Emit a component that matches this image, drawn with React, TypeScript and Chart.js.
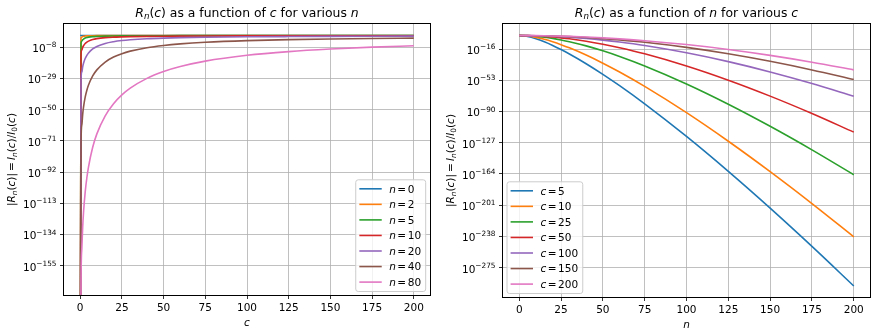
import React, { useEffect, useRef } from "react";
import { Chart, registerables } from "chart.js";

Chart.register(...registerables);

const FONT = '"DejaVu Sans", "Liberation Sans", sans-serif';
const TICK_SIZE = 10.5;
const TITLE_SIZE = 12.4;
const COLORS = ["#1f77b4", "#ff7f0e", "#2ca02c", "#d62728", "#9467bd", "#8c564b", "#e377c2"];

// ---------------- Left panel: log10 |R_n(c)| versus c (-Infinity = R is 0 at c = 0)
const C_GRID = [0, 0.5, 1, 1.5, 2, 3, 4, 5, 7.5, 10, 15, 20, 25, 30, 40, 50, 60, 75, 100, 125, 150, 175, 200];
const N_LABELS = ["0", "2", "5", "10", "20", "40", "80"];
const LOG_R_N0 = [0, 0, 0, 0, 0, 0, 0, 0, 0, 0, 0, 0, 0, 0, 0, 0, 0, 0, 0, 0, 0, 0, 0];
const LOG_R_N2 = [-Infinity, -1.52, -0.97, -0.69, -0.52, -0.34, -0.245, -0.19, -0.125, -0.092, -0.06, -0.045, -0.036, -0.03, -0.022, -0.018, -0.015, -0.012, -0.009, -0.007, -0.006, -0.005, -0.0045];
const LOG_R_N5 = [-Infinity, -5.12, -3.67, -2.88, -2.37, -1.73, -1.35, -1.1, -0.74, -0.56, -0.37, -0.28, -0.22, -0.18, -0.14, -0.11, -0.09, -0.073, -0.054, -0.044, -0.036, -0.031, -0.027];
const LOG_R_N10 = [-Infinity, -12.61, -9.66, -8.01, -6.88, -5.4, -4.45, -3.78, -2.72, -2.11, -1.44, -1.09, -0.88, -0.73, -0.55, -0.44, -0.37, -0.29, -0.22, -0.176, -0.146, -0.125, -0.11];
const LOG_R_N20 = [-Infinity, -30.45, -24.51, -21.09, -18.72, -15.51, -13.34, -11.73, -9.05, -7.35, -5.31, -4.14, -3.37, -2.84, -2.15, -1.73, -1.44, -1.16, -0.87, -0.7, -0.58, -0.5, -0.435];
const LOG_R_N40 = [-Infinity, -72.02, -60.05, -53.13, -48.26, -41.53, -36.88, -33.36, -27.23, -23.14, -17.85, -14.52, -12.21, -10.51, -8.19, -6.69, -5.64, -4.56, -3.45, -2.77, -2.31, -1.98, -1.74];
const LOG_R_N80 = [-Infinity, -167.05, -143.04, -129.06, -119.21, -105.45, -95.8, -88.42, -75.28, -66.25, -54.08, -45.96, -40.03, -35.47, -28.86, -24.27, -20.91, -17.26, -13.32, -10.82, -9.09, -7.83, -6.87];
const LEFT_SERIES = [LOG_R_N0, LOG_R_N2, LOG_R_N5, LOG_R_N10, LOG_R_N20, LOG_R_N40, LOG_R_N80];
const LEFT_Y_TICK_EXP = [-8, -29, -50, -71, -92, -113, -134, -155];
const LEFT_Y_RANGE_EXP = [-175.1, 8.1];

// ---------------- Right panel: log10 |R_n(c)| versus n
const N_GRID = [0, 5, 10, 15, 20, 25, 30, 40, 50, 60, 75, 100, 125, 150, 175, 200];
const C_LABELS = ["5", "10", "25", "50", "100", "150", "200"];
const LOG_R_C5 = [0, -1.1, -3.78, -7.41, -11.73, -16.57, -21.83, -33.36, -45.97, -59.43, -80.95, -119.59, -160.95, -204.49, -249.83, -296.73];
const LOG_R_C10 = [0, -0.56, -2.11, -4.43, -7.35, -10.76, -14.56, -23.14, -32.77, -43.25, -60.28, -91.41, -125.26, -161.29, -199.11, -238.51];
const LOG_R_C25 = [0, -0.22, -0.875, -1.94, -3.37, -5.15, -7.23, -12.21, -18.1, -24.77, -36.0, -57.37, -81.38, -107.53, -135.46, -164.94];
const LOG_R_C50 = [0, -0.11, -0.44, -0.98, -1.73, -2.69, -3.83, -6.69, -10.22, -14.37, -21.61, -36.03, -52.89, -71.76, -92.35, -114.43];
const LOG_R_C100 = [0, -0.054, -0.22, -0.49, -0.87, -1.36, -1.95, -3.45, -5.35, -7.64, -11.77, -20.37, -30.88, -43.1, -56.82, -71.88];
const LOG_R_C150 = [0, -0.036, -0.146, -0.33, -0.58, -0.905, -1.3, -2.31, -3.6, -5.16, -8.01, -14.04, -21.58, -30.51, -40.72, -52.11];
const LOG_R_C200 = [0, -0.027, -0.11, -0.245, -0.435, -0.68, -0.98, -1.74, -2.71, -3.89, -6.05, -10.67, -16.5, -23.49, -31.56, -40.66];
const RIGHT_SERIES = [LOG_R_C5, LOG_R_C10, LOG_R_C25, LOG_R_C50, LOG_R_C100, LOG_R_C150, LOG_R_C200];
const RIGHT_Y_TICK_EXP = [-16, -53, -90, -127, -164, -201, -238, -275];
const RIGHT_Y_RANGE_EXP = [-310.4, 14.3];

const X_TICKS = [0, 25, 50, 75, 100, 125, 150, 175, 200];
const X_RANGE = [-10, 210];

// ---------------- rich (mathtext-like) text helpers
type Seg = { t: string; it?: boolean; sub?: boolean; sup?: boolean; padL?: number; padR?: number };

function fontFor(s: Seg, size: number) {
  const sz = s.sub || s.sup ? size * 0.7 : size;
  return `${s.it ? "italic " : ""}${sz}px ${FONT}`;
}
function richWidth(ctx: CanvasRenderingContext2D, segs: Seg[], size: number) {
  let w = 0;
  for (const s of segs) {
    ctx.font = fontFor(s, size);
    w += ctx.measureText(s.t).width + ((s.padL || 0) + (s.padR || 0)) * size;
  }
  return w;
}
function drawRich(ctx: CanvasRenderingContext2D, segs: Seg[], x: number, y: number, size: number, align: "left" | "center" | "right") {
  const w = richWidth(ctx, segs, size);
  let cx = align === "left" ? x : align === "center" ? x - w / 2 : x - w;
  ctx.textAlign = "left";
  ctx.textBaseline = "alphabetic";
  for (const s of segs) {
    ctx.font = fontFor(s, size);
    cx += (s.padL || 0) * size;
    const dy = s.sub ? size * 0.18 : s.sup ? -size * 0.46 : 0;
    ctx.fillText(s.t, cx, y + dy);
    cx += ctx.measureText(s.t).width + (s.padR || 0) * size;
  }
}

const EQ: Seg = { t: "=", padL: 0.15, padR: 0.15 };
const titleSegs = (v: string, w: string): Seg[] => [
  { t: "R", it: true }, { t: "n", it: true, sub: true }, { t: "(" }, { t: "c", it: true }, { t: ")" },
  { t: " as a function of " }, { t: v, it: true }, { t: " for various " }, { t: w, it: true },
];
const Y_LABEL: Seg[] = [
  { t: "|" }, { t: "R", it: true }, { t: "n", it: true, sub: true }, { t: "(" }, { t: "c", it: true }, { t: ")" }, { t: "|" },
  { t: "=", padL: 0.2, padR: 0.2 },
  { t: "I", it: true }, { t: "n", it: true, sub: true }, { t: "(" }, { t: "c", it: true }, { t: ")" }, { t: "/" },
  { t: "I", it: true }, { t: "0", sub: true }, { t: "(" }, { t: "c", it: true }, { t: ")" },
];

type Area = { left: number; top: number; right: number; bottom: number };
type PanelSpec = {
  width: number; height: number; offsetX: number; area: Area;
  xs: number[]; series: number[][]; legendVar: string; legendLabels: string[];
  yTickExp: number[]; yRangeExp: number[];
  title: Seg[]; xLabel: Seg[]; legendLoc: "lower right" | "lower left";
};

function roundRectPath(ctx: CanvasRenderingContext2D, x: number, y: number, w: number, h: number, r: number) {
  ctx.beginPath();
  ctx.moveTo(x + r, y);
  ctx.arcTo(x + w, y, x + w, y + h, r);
  ctx.arcTo(x + w, y + h, x, y + h, r);
  ctx.arcTo(x, y + h, x, y, r);
  ctx.arcTo(x, y, x + w, y, r);
  ctx.closePath();
}

function drawLegend(ctx: CanvasRenderingContext2D, a: Area, spec: PanelSpec) {
  const size = TICK_SIZE;
  const labels: Seg[][] = spec.legendLabels.map((l) => [{ t: spec.legendVar, it: true }, EQ, { t: l }]);
  const rowH = 15.55, padTop = 9, padBottom = 9.4;
  const lineStart = 3.6, lineLen = 22.4, textStart = 33.4, padRight = 4.6;
  let tw = 0;
  for (const l of labels) tw = Math.max(tw, richWidth(ctx, l, size));
  const w = textStart + tw + padRight;
  const h = padTop + padBottom + rowH * (labels.length - 1);
  const x0 = spec.legendLoc === "lower right" ? a.right - 4.8 - w : a.left + 4.5;
  const y0 = a.bottom - 4 - h;
  roundRectPath(ctx, x0, y0, w, h, 2.5);
  ctx.fillStyle = "rgba(255,255,255,0.8)";
  ctx.fill();
  ctx.strokeStyle = "#cccccc";
  ctx.lineWidth = 1;
  ctx.stroke();
  labels.forEach((l, i) => {
    const cy = y0 + padTop + i * rowH;
    ctx.beginPath();
    ctx.moveTo(x0 + lineStart, cy);
    ctx.lineTo(x0 + lineStart + lineLen, cy);
    ctx.strokeStyle = COLORS[i];
    ctx.lineWidth = 1.6;
    ctx.stroke();
    ctx.fillStyle = "#000";
    drawRich(ctx, l, x0 + textStart, cy + 3.8, size, "left");
  });
}

const toValue = (e: number) => (e === -Infinity ? 1e-320 : Math.pow(10, e));

function Panel({ spec }: { spec: PanelSpec }) {
  const ref = useRef<HTMLCanvasElement>(null);
  useEffect(() => {
    const canvas = ref.current!;
    const { area, width, height } = spec;
    const decor = {
      id: "decor",
      afterDraw(chart: any) {
        const ctx: CanvasRenderingContext2D = chart.ctx;
        const a = chart.chartArea;
        const ys = chart.scales.y;
        ctx.save();
        ctx.fillStyle = "#000";
        for (const e of spec.yTickExp) {
          const py = ys.getPixelForValue(Math.pow(10, e));
          drawRich(ctx, [{ t: "10" }, { t: "\u2212" + Math.abs(e), sup: true }], a.left - 7, py + 4.9, TICK_SIZE, "right");
        }
        ctx.strokeStyle = "#000";
        ctx.lineWidth = 1;
        ctx.strokeRect(a.left, a.top, a.right - a.left, a.bottom - a.top);
        ctx.fillStyle = "#000";
        drawRich(ctx, spec.title, (a.left + a.right) / 2, a.top - 6.3, TITLE_SIZE, "center");
        drawRich(ctx, spec.xLabel, (a.left + a.right) / 2, a.bottom + 30.2, TICK_SIZE, "center");
        ctx.save();
        ctx.translate(a.left - 48.4, (a.top + a.bottom) / 2);
        ctx.rotate(-Math.PI / 2);
        drawRich(ctx, Y_LABEL, 0, 0, TICK_SIZE, "center");
        ctx.restore();
        drawLegend(ctx, a, spec);
        ctx.restore();
      },
    };
    const n = spec.series.length;
    const chart = new Chart(canvas, {
      type: "line",
      data: {
        datasets: spec.series.map((s, i) => ({
          label: spec.legendLabels[i],
          data: spec.xs.map((x, j) => ({ x, y: toValue(s[j]) })),
          borderColor: COLORS[i],
          backgroundColor: COLORS[i],
          borderWidth: 1.6,
          pointRadius: 0,
          fill: false,
          cubicInterpolationMode: "monotone",
          order: n - i,
        })),
      },
      options: {
        responsive: false,
        animation: false,
        devicePixelRatio: 1,
        events: [],
        layout: { padding: { left: 0, top: area.top, right: width - area.right, bottom: 0 } },
        plugins: { legend: { display: false }, title: { display: false }, tooltip: { enabled: false } },
        scales: {
          x: {
            type: "linear",
            min: X_RANGE[0],
            max: X_RANGE[1],
            afterBuildTicks: (s: any) => {
              s.ticks = X_TICKS.map((v) => ({ value: v }));
            },
            afterFit: (s: any) => {
              s.height = height - area.bottom;
            },
            grid: { color: "#b0b0b0", lineWidth: 0.8, tickColor: "#000", tickLength: 3.5, tickWidth: 0.8 },
            border: { display: false },
            ticks: {
              color: "#000",
              font: { family: FONT, size: TICK_SIZE },
              padding: 3,
              autoSkip: false,
              maxRotation: 0,
              callback: (v: any) => String(v),
            },
          },
          y: {
            type: "logarithmic",
            min: Math.pow(10, spec.yRangeExp[0]),
            max: Math.pow(10, spec.yRangeExp[1]),
            bounds: "data",
            afterBuildTicks: (s: any) => {
              s.ticks = spec.yTickExp.map((e) => ({ value: Math.pow(10, e) }));
            },
            afterFit: (s: any) => {
              s.width = area.left;
            },
            grid: { color: "#b0b0b0", lineWidth: 0.8, tickColor: "#000", tickLength: 3.5, tickWidth: 0.8 },
            border: { display: false },
            ticks: { display: false, autoSkip: false, callback: () => "" },
          },
        },
      } as any,
      plugins: [decor],
    } as any);
    return () => chart.destroy();
  }, [spec]);
  return (
    <canvas
      ref={ref}
      width={spec.width}
      height={spec.height}
      style={{ position: "absolute", left: spec.offsetX, top: 0, width: spec.width, height: spec.height }}
    />
  );
}

const LEFT_SPEC: PanelSpec = {
  width: 437, height: 336, offsetX: 0,
  area: { left: 63.5, top: 23.5, right: 430.5, bottom: 295.5 },
  xs: C_GRID, series: LEFT_SERIES, legendVar: "n", legendLabels: N_LABELS,
  yTickExp: LEFT_Y_TICK_EXP, yRangeExp: LEFT_Y_RANGE_EXP,
  title: titleSegs("c", "n"), xLabel: [{ t: "c", it: true }], legendLoc: "lower right",
};
const RIGHT_SPEC: PanelSpec = {
  width: 440, height: 336, offsetX: 437,
  area: { left: 65.5, top: 23.5, right: 433.5, bottom: 297.5 },
  xs: N_GRID, series: RIGHT_SERIES, legendVar: "c", legendLabels: C_LABELS,
  yTickExp: RIGHT_Y_TICK_EXP, yRangeExp: RIGHT_Y_RANGE_EXP,
  title: titleSegs("n", "c"), xLabel: [{ t: "n", it: true }], legendLoc: "lower left",
};

export default function App() {
  return (
    <div style={{ position: "absolute", left: 0, top: 0, width: 877, height: 336, background: "#fff", overflow: "hidden" }}>
      <Panel spec={LEFT_SPEC} />
      <Panel spec={RIGHT_SPEC} />
    </div>
  );
}
